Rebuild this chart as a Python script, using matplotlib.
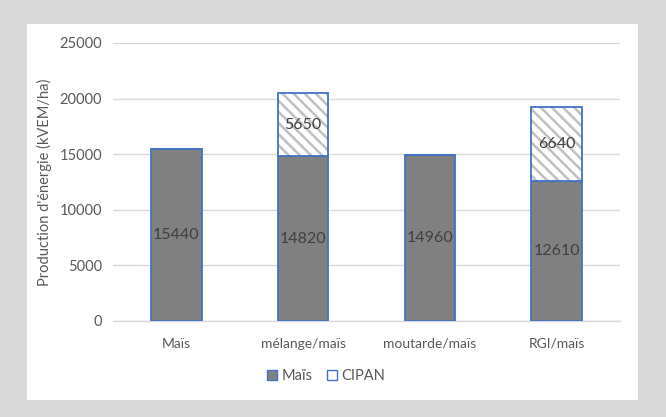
import matplotlib
matplotlib.use("Agg")
import matplotlib.pyplot as plt
from matplotlib.patches import Rectangle, Patch
import numpy as np

plt.rcParams['font.family'] = ['Lato', 'DejaVu Sans']
plt.rcParams['hatch.linewidth'] = 1.8

categories = ["Maïs", "mélange/maïs", "moutarde/maïs", "RGI/maïs"]
mais = [15440, 14820, 14960, 12610]
cipan = [0, 5650, 0, 6640]
yticks = [0, 5000, 10000, 15000, 20000, 25000]

W, H = 666, 417
fig = plt.figure(figsize=(W / 100, H / 100), dpi=100)
fig.patch.set_facecolor('#d9d9d9')
fig.add_artist(Rectangle((27 / W, 1 - 400 / H), (638 - 27) / W, (400 - 24) / H,
                         transform=fig.transFigure, facecolor='white',
                         edgecolor='none', zorder=0))

ax = fig.add_axes([113 / W, 1 - 321 / H, (620 - 113) / W, (321 - 43) / H])
ax.set_facecolor('none')

x = np.arange(len(categories))
edge = '#4472c4'
hatch_col = '#c0c0c0'
width = 0.4

ax.bar(x, mais, width=width, color='#808080', edgecolor=edge, linewidth=1.3,
       zorder=3)
# hatched fill for the cover crop, then its blue outline on top
ax.bar(x, cipan, width=width, bottom=mais, color='white', edgecolor=hatch_col,
       linewidth=0, hatch='\\\\\\', zorder=3)
ax.bar(x, cipan, width=width, bottom=mais, fill=False, edgecolor=edge,
       linewidth=1.3, zorder=4)

for i, (m, c) in enumerate(zip(mais, cipan)):
    ax.text(x[i], m / 2, f"{m}", ha='center', va='center', fontsize=11.5,
            color='#404040', zorder=5)
    if c > 0:
        ax.text(x[i], m + c / 2, f"{c}", ha='center', va='center', fontsize=11.5,
                color='#404040', zorder=5)

ax.set_xlim(-0.5, len(categories) - 0.5)
ax.set_ylim(0, 25000)
ax.set_yticks(yticks)
ax.set_yticklabels([str(v) for v in yticks])
ax.set_xticks(x)
ax.set_xticklabels(categories)
ax.grid(axis='y', color='#d9d9d9', linewidth=1.0, zorder=0)
for s in ['top', 'right', 'left']:
    ax.spines[s].set_visible(False)
ax.spines['bottom'].set_color('#d9d9d9')
ax.spines['bottom'].set_linewidth(1.0)
ax.tick_params(axis='y', length=0, labelsize=10.5, colors='#595959', pad=8)
ax.tick_params(axis='x', length=0, labelsize=10, colors='#595959', pad=12)
ax.set_ylabel("Production d'énergie (kVEM/ha)", fontsize=10.5, color='#595959',
              labelpad=5)

handles = [Patch(facecolor='#808080', edgecolor=edge, linewidth=1.0, label='Maïs'),
           Patch(facecolor='white', edgecolor=edge, linewidth=1.0, label='CIPAN')]
fig.legend(handles=handles, loc='center', bbox_to_anchor=(326 / W, 1 - 376 / H),
           ncol=2, frameon=False, fontsize=10.5, handlelength=0.7, handleheight=0.7,
           handletextpad=0.3, columnspacing=1.0, labelcolor='#595959')

fig.savefig('out.png', dpi=100, facecolor=fig.get_facecolor())
